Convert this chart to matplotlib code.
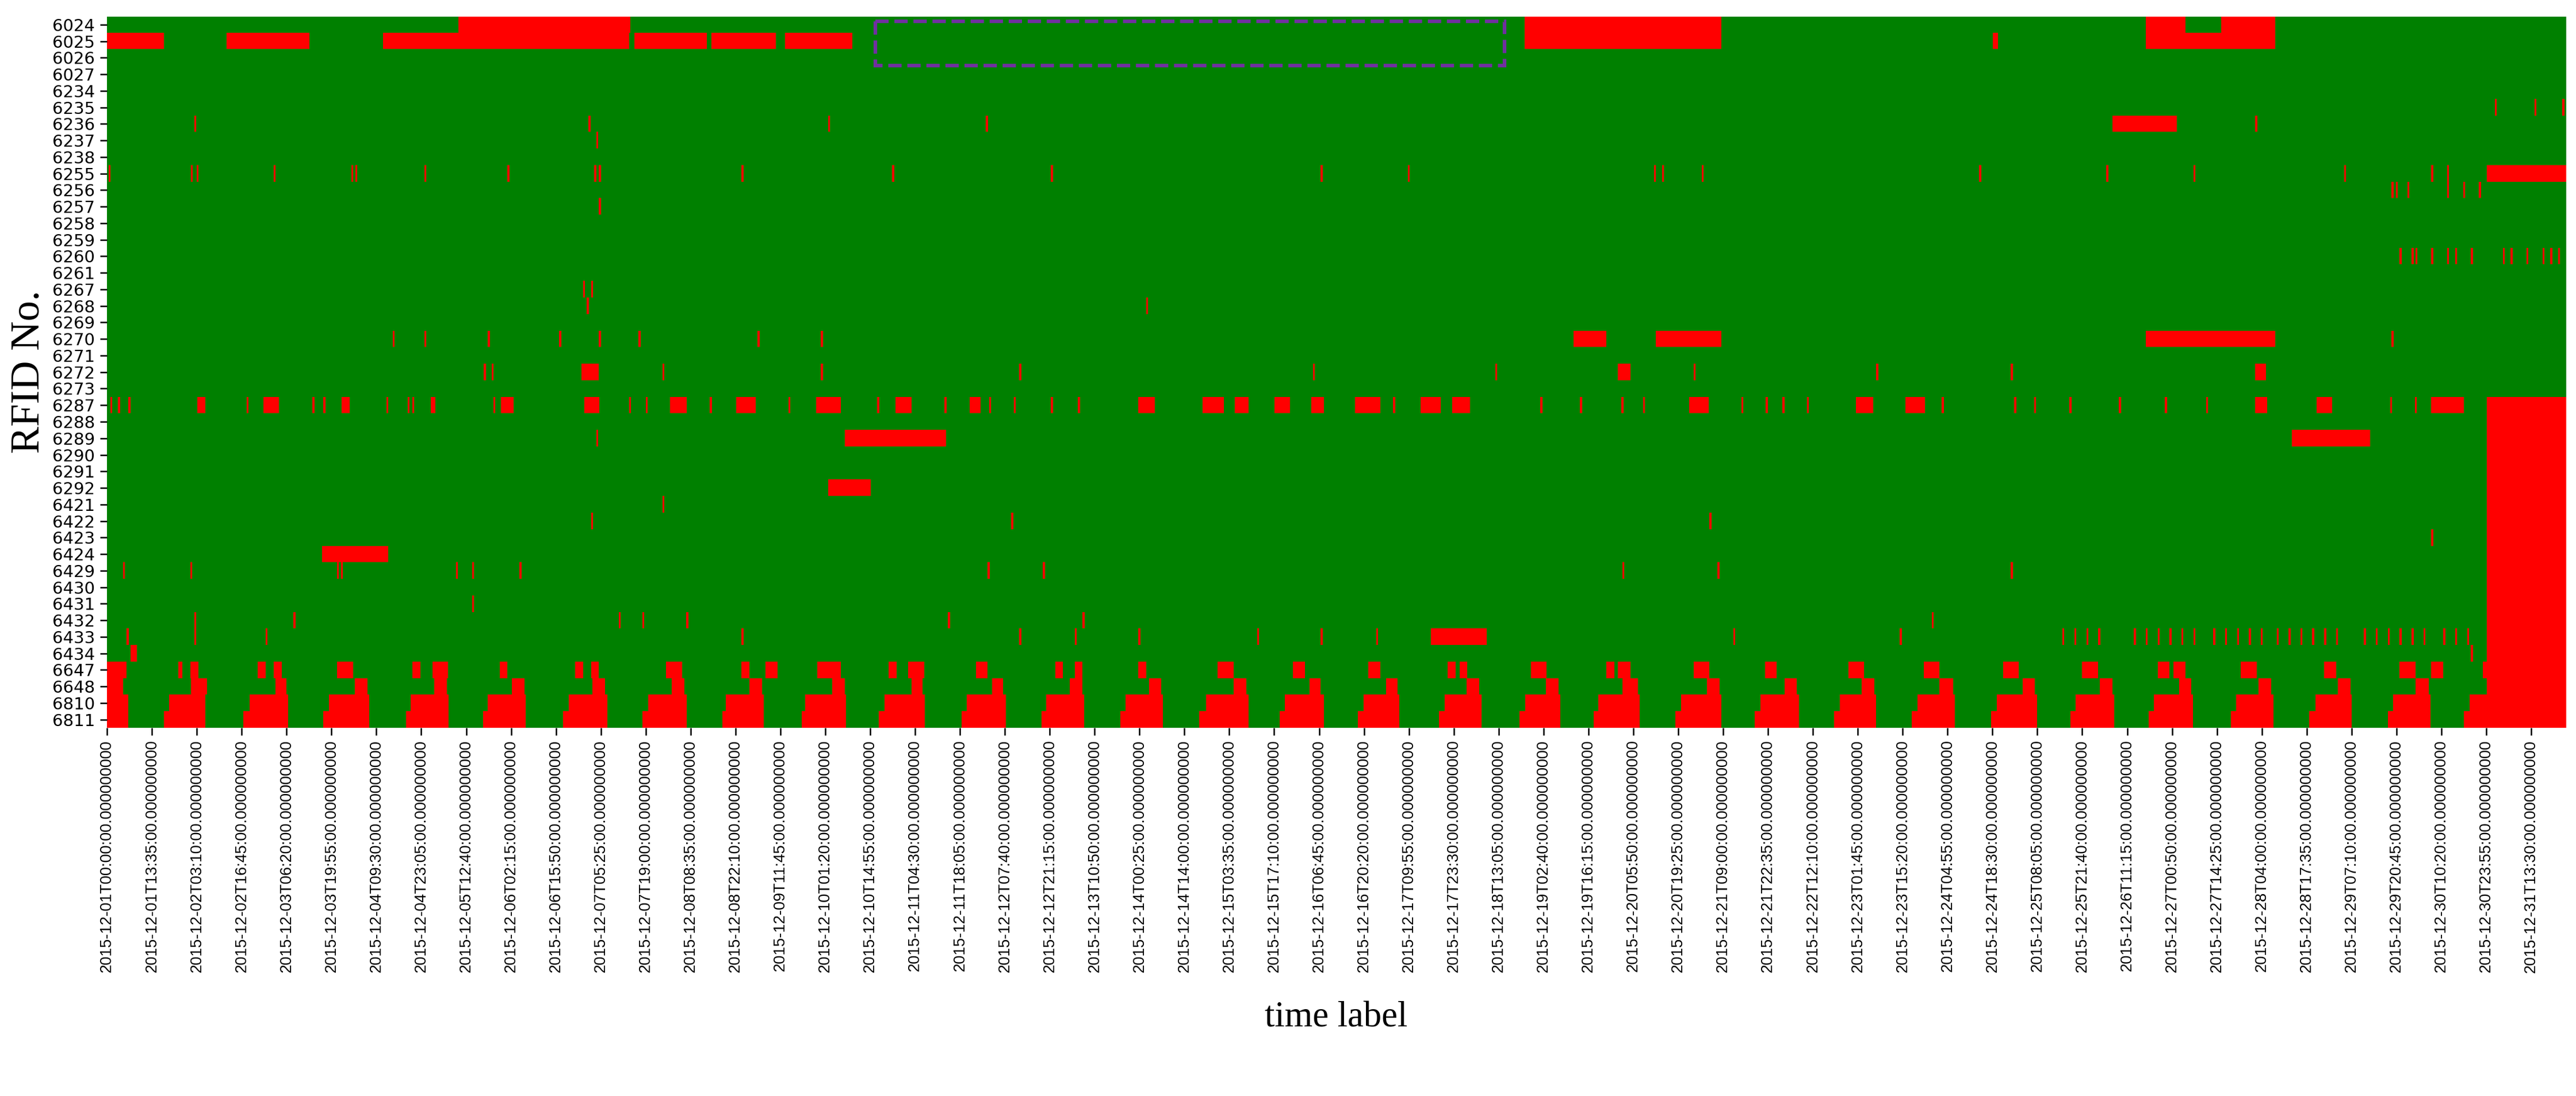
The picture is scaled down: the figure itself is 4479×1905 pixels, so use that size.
import numpy as np
import matplotlib
matplotlib.use("Agg")
import matplotlib.pyplot as plt
from matplotlib.colors import ListedColormap
from matplotlib.patches import Rectangle

rfids = [6024, 6025, 6026, 6027, 6234, 6235, 6236, 6237, 6238, 6255, 6256, 6257, 6258,
         6259, 6260, 6261, 6267, 6268, 6269, 6270, 6271, 6272, 6273, 6287, 6288, 6289,
         6290, 6291, 6292, 6421, 6422, 6423, 6424, 6429, 6430, 6431, 6432, 6433, 6434,
         6647, 6648, 6810, 6811]

n_cols = 31 * 288  # 5-minute slots in December 2015
tick_step = 163

# red intervals (in days from 2015-12-01 00:00)
blocks = {
    6024: [(4.43, 6.6), (17.87, 20.35), (25.7, 26.2), (26.65, 27.33)],
    6025: [(0, 0.72), (1.51, 2.55), (3.48, 6.58), (6.65, 7.56), (7.62, 8.43), (8.55, 9.4),
           (17.87, 20.35), (23.77, 23.84), (25.7, 27.33)],
    6236: [(25.28, 26.09)],
    6255: [(30.0, 31.0)],
    6270: [(18.49, 18.9), (19.52, 20.35), (25.7, 27.33)],
    6272: [(5.98, 6.2), (19.05, 19.2), (27.08, 27.22)],
    6287: [(1.14, 1.24), (1.97, 2.17), (2.96, 3.06), (4.08, 4.14), (4.97, 5.13), (6.02, 6.21),
           (7.10, 7.31), (7.93, 8.18), (8.94, 9.25), (9.94, 10.14), (10.87, 11.01), (13.0, 13.21),
           (13.81, 14.08), (14.22, 14.39), (14.72, 14.91), (15.18, 15.34), (15.73, 16.05),
           (16.56, 16.81), (16.96, 17.18), (19.94, 20.19), (22.05, 22.26), (22.67, 22.92),
           (27.08, 27.23), (27.85, 28.05), (29.30, 29.71), (30.0, 31.0)],
    6289: [(9.3, 10.58), (27.54, 28.53)],
    6292: [(9.09, 9.63)],
    6424: [(2.71, 3.54)],
    6433: [(16.69, 17.39)],
    6434: [(0.3, 0.38)],
}
marks = {
    6235: [30.1, 30.6, 30.95],
    6236: [1.1, 6.07, 9.09, 11.08, 27.08],
    6237: [6.17],
    6255: [0.02, 1.06, 1.13, 2.1, 3.08, 3.13, 4.0, 5.05, 6.14, 6.2, 8.0, 9.9, 11.9, 15.3,
           16.4, 19.5, 19.6, 20.1, 23.6, 25.2, 26.3, 28.2, 29.3, 29.5],
    6256: [28.8, 28.85, 29.0, 29.5, 29.7, 29.9],
    6257: [6.2],
    6260: [28.9, 29.05, 29.1, 29.3, 29.5, 29.6, 29.8, 30.2, 30.3, 30.5, 30.7, 30.8, 30.9],
    6267: [6.0, 6.1],
    6268: [6.05, 13.1],
    6270: [3.6, 4.0, 4.8, 5.7, 6.2, 6.7, 8.2, 9.0, 20.1, 28.8],
    6272: [4.75, 4.85, 7.0, 9.0, 11.5, 15.2, 17.5, 20.0, 22.3, 24.0],
    6287: [0.04, 0.14, 0.27, 1.76, 2.59, 2.73, 3.52, 3.79, 3.85, 4.87, 6.58, 6.79, 7.60, 8.59,
           9.71, 10.56, 11.12, 11.43, 11.90, 12.24, 16.21, 18.07, 18.57, 19.09, 19.36, 20.6,
           20.91, 21.12, 21.43, 23.13, 24.04, 24.29, 24.74, 25.36, 25.94, 26.46, 28.78, 29.09],
    6289: [6.17],
    6421: [7.0],
    6422: [6.1, 11.4, 20.2],
    6423: [29.3],
    6429: [0.2, 1.05, 2.9, 2.95, 4.4, 4.6, 5.2, 11.1, 11.8, 19.1, 20.3, 24.0],
    6431: [4.6],
    6432: [1.1, 2.35, 6.45, 6.75, 7.3, 10.6, 12.3, 23.0],
    6433: [0.25, 1.1, 2.0, 8.0, 11.5, 12.2, 13.0, 14.5, 15.3, 16.0, 20.5, 22.6, 24.65, 24.8,
           24.95, 25.1, 25.55, 25.7, 25.85, 26.0, 26.15, 26.3, 26.55, 26.7, 26.85, 27.0, 27.15,
           27.35, 27.5, 27.65, 27.8, 27.95, 28.1, 28.45, 28.6, 28.75, 28.9, 29.05, 29.2,
           29.45, 29.6, 29.75],
    6434: [29.8],
}
starts_6811 = [0.72, 1.72, 2.73, 3.77, 4.74, 5.75, 6.75, 7.76, 8.76, 9.73, 10.77, 11.78,
               12.77, 13.77, 14.78, 15.77, 16.79, 17.81, 18.74, 19.77, 20.77, 21.77, 22.75,
               23.75, 24.75, 25.74, 26.77, 27.76, 28.75, 29.71]
ends_6811 = [0.27, 1.24, 2.28, 3.31, 4.31, 5.28, 6.31, 7.31, 8.28, 9.32, 10.31, 11.33, 12.32,
             13.31, 14.39, 15.34, 16.29, 17.33, 18.32, 19.32, 20.35, 21.33, 22.30, 23.29,
             24.33, 25.30, 26.29, 27.31, 28.30, 29.29, 31.0]
starts_6810 = [0.78, 1.80, 2.80, 3.83, 4.80, 5.82, 6.82, 7.80, 8.80, 9.80, 10.84, 11.84,
               12.84, 13.85, 14.85, 15.84, 16.86, 17.88, 18.80, 19.84, 20.84, 21.84, 22.82,
               23.82, 24.82, 25.80, 26.84, 27.84, 28.82, 29.78]
starts_6648 = [0.0, 1.06, 2.12, 3.12, 4.12, 5.10, 6.12, 7.12, 8.10, 9.14, 10.14, 11.16,
               12.14, 13.14, 14.20, 15.16, 16.12, 17.14, 18.14, 19.10, 20.17, 21.15, 22.12,
               23.10, 24.15, 25.12, 26.12, 27.12, 28.12, 29.10]
ends_6648 = [0.2, 1.26, 2.26, 3.28, 4.28, 5.26, 6.28, 7.28, 8.26, 9.30, 10.28, 11.30, 12.30,
             13.29, 14.36, 15.30, 16.27, 17.30, 18.30, 19.30, 20.33, 21.30, 22.28, 23.27,
             24.30, 25.28, 26.27, 27.28, 28.28, 29.27]
bursts_6647 = [(0.0, 0.25), (0.9, 0.95), (1.05, 1.15), (1.9, 2.0), (2.1, 2.2), (2.9, 3.1),
               (3.85, 3.95), (4.1, 4.3), (4.95, 5.05), (5.9, 6.0), (6.1, 6.2), (7.05, 7.25),
               (8.0, 8.1), (8.3, 8.45), (8.95, 9.25), (9.85, 9.95), (10.1, 10.3), (10.95, 11.1),
               (11.95, 12.05), (12.2, 12.3), (13.0, 13.1), (14.0, 14.2), (14.95, 15.1),
               (15.9, 16.05), (16.9, 17.0), (17.05, 17.15), (17.95, 18.15), (18.9, 19.0),
               (19.05, 19.2), (20.0, 20.2), (20.9, 21.05), (21.95, 22.15), (22.9, 23.1),
               (23.9, 24.1), (24.9, 25.1), (25.85, 26.0), (26.05, 26.2), (26.9, 27.1),
               (27.95, 28.1), (28.9, 29.1), (29.3, 29.45), (29.95, 31.0)]

row_index = {r: i for i, r in enumerate(rfids)}
M = np.zeros((len(rfids), n_cols))

def fill(r, a, b):
    i0 = int(round(a * 288)); i1 = max(int(round(b * 288)), i0 + 1)
    M[row_index[r], i0:i1] = 1

for r, iv in blocks.items():
    for a, b in iv:
        fill(r, a, b)
for r, ms in marks.items():
    for m in ms:
        fill(r, m, m + 0.025)
fill(6811, 0, ends_6811[0]); fill(6810, 0, ends_6811[0])
for k, s in enumerate(starts_6811):
    fill(6811, s, ends_6811[k + 1])
for k, s in enumerate(starts_6810):
    fill(6810, s, ends_6811[k + 1])
for a, b in zip(starts_6648, ends_6648):
    fill(6648, a, b)
for a, b in bursts_6647:
    fill(6647, a, b)
for r in rfids[row_index[6287]:]:
    fill(r, 30.0, 31.0)

times = np.datetime64('2015-12-01T00:00', 'ns') + np.arange(n_cols) * np.timedelta64(5, 'm')
tick_pos = np.arange(0, n_cols, tick_step)
tick_labels = [str(times[i]) for i in tick_pos]

fig = plt.figure(figsize=(14.93, 6.35), dpi=300)
ax = fig.add_axes([0.0415, 0.336, 0.9545, 0.649])
ax.imshow(M, aspect='auto', cmap=ListedColormap(['#008000', '#ff0000']),
          interpolation='nearest', vmin=0, vmax=1)
ax.set_yticks(range(len(rfids)))
ax.set_yticklabels([str(r) for r in rfids], fontsize=7, family='Liberation Sans Narrow')
ax.set_xticks(tick_pos)
ax.set_xticklabels(tick_labels, rotation=90, fontsize=6.5, family='Liberation Sans')
for s in ax.spines.values():
    s.set_visible(False)
ax.tick_params(length=3, width=0.6, pad=2)
ax.set_ylabel('RFID No.', fontsize=17, family='Liberation Serif', labelpad=2)
ax.set_xlabel('time label', fontsize=15, family='Liberation Serif', labelpad=12)
ax.add_patch(Rectangle((9.69 * 288, -0.2), (17.62 - 9.69) * 288, 2.68, fill=False,
                       edgecolor='#7030A0', linestyle='--', linewidth=1.5))
fig.savefig('out.png', dpi=300)
